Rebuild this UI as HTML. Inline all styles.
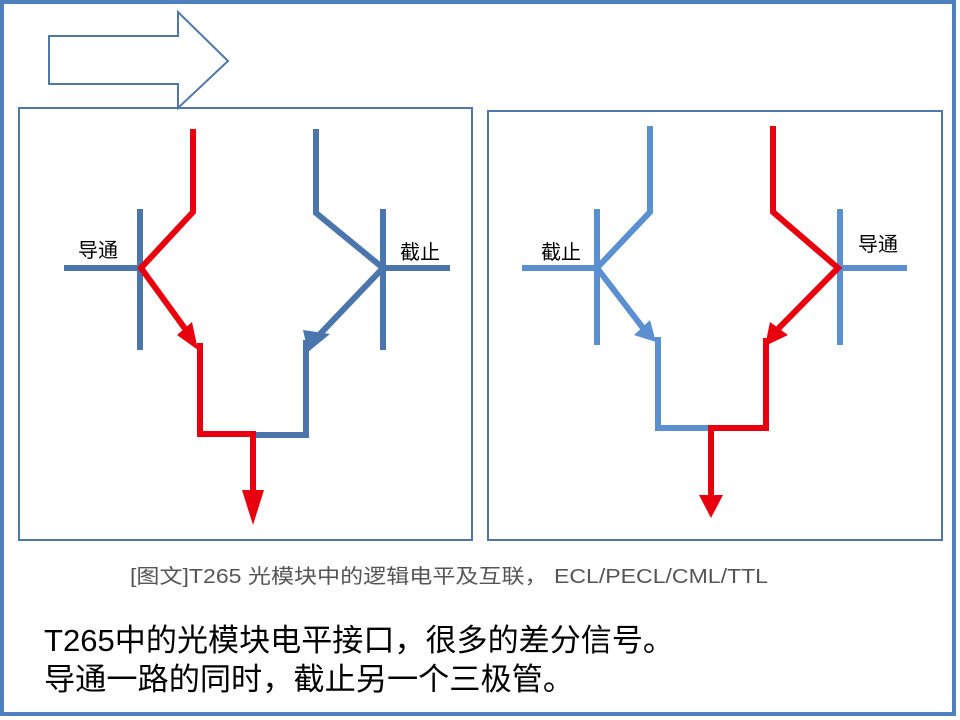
<!DOCTYPE html>
<html><head><meta charset="utf-8"><style>
body{margin:0;width:960px;height:720px;background:#fff;overflow:hidden}
svg{position:absolute;left:0;top:0}
text{font-family:"Liberation Sans","Noto Sans CJK SC",sans-serif}
</style></head><body>
<svg width="960" height="720" viewBox="0 0 960 720">
<rect x="2" y="2" width="952" height="712" fill="none" stroke="#4f7fbd" stroke-width="4"/>
<polygon points="49,36 178,36 178,12 228,61 178,108 178,84 49,84" fill="#fff" stroke="#4f78aa" stroke-width="2"/>
<rect x="19" y="108" width="453" height="432" fill="none" stroke="#4f78aa" stroke-width="2"/>
<rect x="488" y="111" width="454" height="429" fill="none" stroke="#4f78aa" stroke-width="2"/>
<g stroke="#4a76ad" stroke-width="6" fill="none">
<line x1="64" y1="268" x2="140" y2="268"/><line x1="140" y1="209" x2="140" y2="350"/>
<polyline points="316,129 316,213 383,268"/>
<line x1="383" y1="209" x2="383" y2="350"/><line x1="383" y1="268" x2="450" y2="268"/>
<line x1="383" y1="268" x2="320" y2="334"/>
<polyline points="306,340 306,435 253,435"/>
</g>
<polygon points="308,352 303,330 330,334" fill="#4a76ad"/>
<g stroke="#e8000f" stroke-width="6" fill="none">
<polyline points="193,129 193,212 141,268 186,330"/>
<polyline points="200,343 200,434 253,434 253,490"/>
</g>
<polygon points="198,350 177,335 192,322" fill="#e8000f"/>
<polygon points="242,490 264,490 253,525" fill="#e8000f"/>
<g stroke="#5a8fd2" stroke-width="6" fill="none">
<line x1="522" y1="268" x2="597" y2="268"/><line x1="597" y1="209" x2="597" y2="345"/>
<polyline points="650,126 650,212 597,268 643,328"/>
<polyline points="658,337 658,428 712,428"/>
<line x1="840" y1="209" x2="840" y2="345"/><line x1="840" y1="268" x2="907" y2="268"/>
</g>
<polygon points="656,342 634,335 650,320" fill="#5a8fd2"/>
<g stroke="#e8000f" stroke-width="6" fill="none">
<polyline points="773,126 773,212 838,268 774,333"/>
<polyline points="766,338 766,428 711,428 711,496"/>
</g>
<polygon points="765,346 770,322 788,335" fill="#e8000f"/>
<polygon points="699,495 723,495 711,518" fill="#e8000f"/>
<g font-size="20" fill="#000">
<text x="78" y="257">导通</text><text x="400" y="259">截止</text>
<text x="541" y="259">截止</text><text x="858" y="251">导通</text>
</g>
<text x="130" y="583" font-size="20" fill="#555" textLength="638" lengthAdjust="spacingAndGlyphs">[图文]T265 光模块中的逻辑电平及互联， ECL/PECL/CML/TTL</text>
<text x="44" y="651" font-size="31" fill="#000" textLength="630" lengthAdjust="spacingAndGlyphs">T265中的光模块电平接口，很多的差分信号。</text>
<text x="44" y="690" font-size="31" fill="#000" textLength="530" lengthAdjust="spacingAndGlyphs">导通一路的同时，截止另一个三极管。</text>
</svg>
</body></html>
